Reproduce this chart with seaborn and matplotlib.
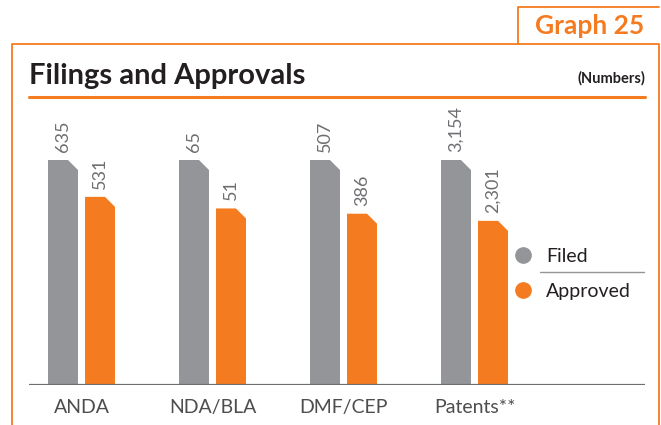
import matplotlib.pyplot as plt
import pandas as pd
import seaborn as sns
from matplotlib.lines import Line2D
from matplotlib.patches import Polygon, Rectangle

W_PX, H_PX = 661, 425

CATEGORIES = ["ANDA", "NDA/BLA", "DMF/CEP", "Patents**"]
FILED = [635, 65, 507, 3154]
APPROVED = [531, 51, 386, 2301]
SERIES = ["Filed", "Approved"]
COLORS = {"Filed": "#939598", "Approved": "#F47B20"}

ORANGE = "#F47B20"
LABEL_GRAY = "#6D6E71"
TEXT_DARK = "#231F20"


def fx(px):
    return px / W_PX


def fy(py):
    return 1 - py / H_PX


def build_frame() -> pd.DataFrame:
    # bars are scaled within each group: filed = full height, approved = share of filed
    rows = []
    for cat, f, a in zip(CATEGORIES, FILED, APPROVED):
        rows.append({"category": cat, "series": "Filed", "value": f, "height": 1.0})
        rows.append({"category": cat, "series": "Approved", "value": a, "height": a / f})
    return pd.DataFrame(rows)


def main() -> None:
    sns.set_theme(style="white")
    plt.rcParams["font.family"] = ["Lato", "DejaVu Sans"]

    df = build_frame()

    fig = plt.figure(figsize=(W_PX / 100, H_PX / 100), dpi=100)
    ax_left, ax_right, ax_bottom, ax_top = 29, 645, 385, 100
    ax = fig.add_axes([fx(ax_left), fy(ax_bottom), (ax_right - ax_left) / W_PX, (ax_bottom - ax_top) / H_PX])

    sns.barplot(
        data=df, x="category", y="height", hue="series", order=CATEGORIES,
        hue_order=SERIES, palette=COLORS, width=0.565, gap=0.19,
        saturation=1, legend=False, linewidth=0, ax=ax,
    )

    unit_x = 131.0  # px per category
    x_left = -52.5 / unit_x
    ax.set_xlim(x_left, x_left + (ax_right - ax_left) / unit_x)
    full_px = 225.0
    ax.set_ylim(0, (ax_bottom - ax_top) / full_px)

    dx = 10 / unit_x
    dy = 10 / full_px
    bars = sorted([p for p in ax.patches if isinstance(p, Rectangle)], key=lambda p: p.get_x())
    labels = []
    for f, a in zip(FILED, APPROVED):
        labels += [f, a]
    for patch, val in zip(bars, labels):
        x, w, h = patch.get_x(), patch.get_width(), patch.get_height()
        color = patch.get_facecolor()
        patch.remove()
        pts = [(x, 0), (x, h), (x + w - dx, h), (x + w, h - dy), (x + w, 0)]
        ax.add_patch(Polygon(pts, closed=True, facecolor=color, edgecolor="none"))
        ax.text(x + w / 2, h + 8 / full_px, f"{val:,}", rotation=90, ha="center",
                va="bottom", fontsize=13, color=LABEL_GRAY)

    ax.axhline(0, color=LABEL_GRAY, lw=1.6, zorder=5)
    for s in ax.spines.values():
        s.set_visible(False)
    ax.set_yticks([])
    ax.set_xlabel("")
    ax.set_ylabel("")
    ax.tick_params(axis="x", length=0, pad=10, labelsize=14, labelcolor="#4D4D4F")

    # legend with separator
    fig.add_artist(Line2D([fx(523)], [fy(255)], marker="o", markersize=11, color=COLORS["Filed"], lw=0))
    fig.add_artist(Line2D([fx(523)], [fy(290)], marker="o", markersize=11, color=COLORS["Approved"], lw=0))
    fig.text(fx(546), fy(256), "Filed", fontsize=14, color=TEXT_DARK, va="center")
    fig.text(fx(546), fy(291), "Approved", fontsize=14, color=TEXT_DARK, va="center")
    fig.add_artist(Line2D([fx(540), fx(644)], [fy(272), fy(272)], color="#939598", lw=1))

    # outer frame and header
    fig.add_artist(Line2D([fx(12), fx(12), fx(659), fx(659)], [fy(H_PX + 5), fy(44), fy(44), fy(H_PX + 5)],
                          color=ORANGE, lw=1.3))
    fig.add_artist(Line2D([fx(518), fx(518), fx(659)], [fy(44), fy(7), fy(7)], color=ORANGE, lw=1.3))
    fig.text(fx(590), fy(26), "Graph 25", fontsize=19, fontweight="bold", color=ORANGE, ha="center", va="center")
    fig.text(fx(29), fy(76), "Filings and Approvals", fontsize=21, fontweight="bold", color=TEXT_DARK, va="center")
    fig.text(fx(645), fy(78), "(Numbers)", fontsize=10.5, fontweight="bold", color=TEXT_DARK, ha="right", va="center")
    fig.add_artist(Line2D([fx(29), fx(645)], [fy(97), fy(97)], color=ORANGE, lw=2.2))

    fig.savefig("out.png", dpi=100)
    plt.close(fig)


if __name__ == "__main__":
    main()
